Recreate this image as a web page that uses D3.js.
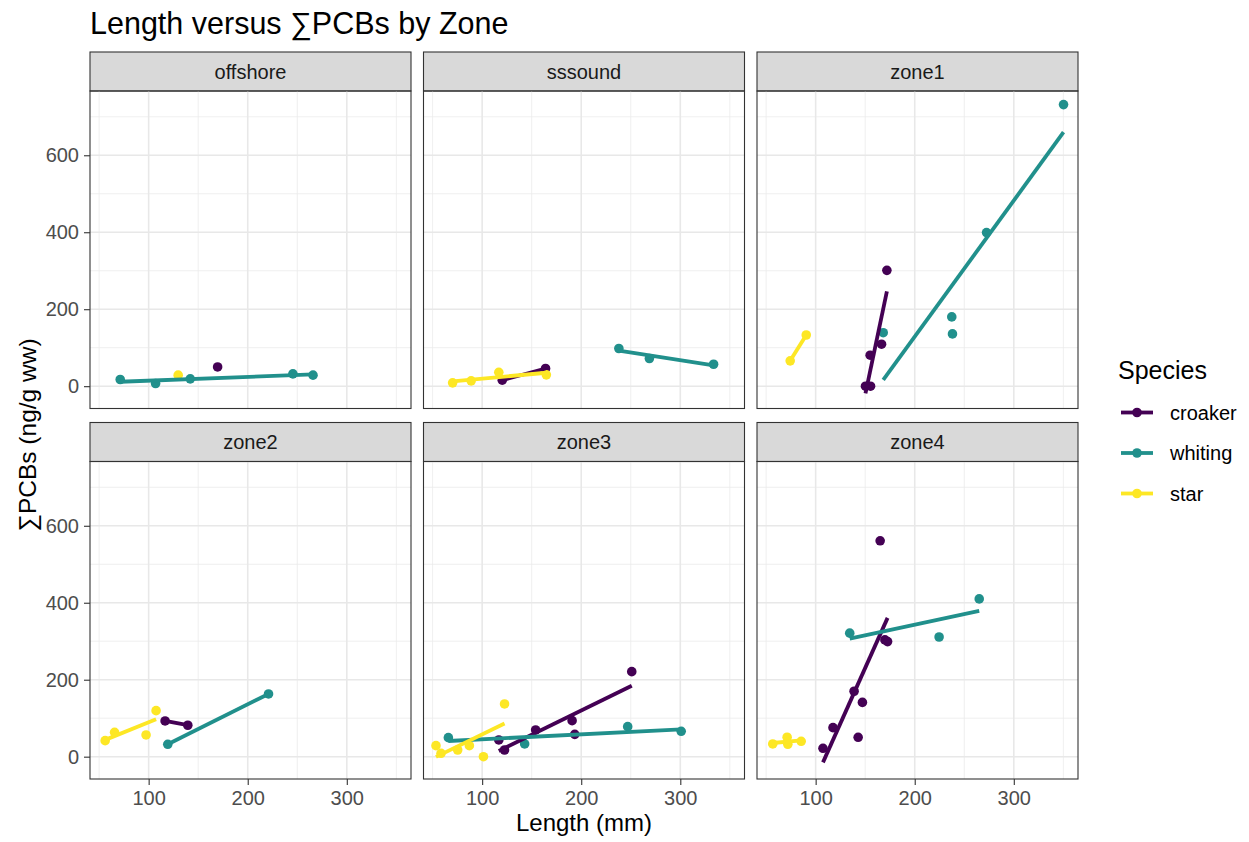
<!DOCTYPE html>
<html lang="en">
<head>
<meta charset="UTF-8">
<title>Length versus ∑PCBs by Zone</title>
<script src="https://d3js.org/d3.v7.min.js"></script>
<style>
  body { margin: 0; background: #fff; }
  svg { font-family: "Liberation Sans", Arial, Helvetica, sans-serif; }
  .tick text { fill: #4D4D4D; font-size: 20px; }
  .tick line { stroke: #333333; stroke-width: 1.1; }
</style>
</head>
<body>
<div id="chart"></div>
<script>
// facets and groups
const zones = ["offshore", "sssound", "zone1", "zone2", "zone3", "zone4"];
const speciesNames = ["croaker", "whiting", "star"];
const speciesColors = ["#440154", "#21908C", "#FDE725"];

// observations, one array per field and species
const croakerZone   = ["offshore", "sssound", "sssound", "zone1", "zone1", "zone1", "zone1", "zone1",
                       "zone2", "zone2", "zone3", "zone3", "zone3", "zone3", "zone3", "zone3",
                       "zone4", "zone4", "zone4", "zone4", "zone4", "zone4", "zone4", "zone4"];
const croakerLength = [169.6, 120.3, 164, 150.3, 155.4, 155, 166.5, 171.9,
                       116.6, 139.5, 116.8, 122.6, 154, 190.8, 193.5, 251,
                       107.4, 117.5, 138.8, 147.2, 142.9, 165.1, 169.9, 172.6];
const croakerPCB    = [50, 15.6, 46, 0, 0, 80.5, 109, 301,
                       92.8, 81.7, 43.4, 17.4, 69.4, 93.6, 58, 221,
                       21.8, 75.4, 170, 141, 50.4, 561, 303.5, 299];

const whitingZone   = ["offshore", "offshore", "offshore", "offshore", "offshore",
                       "sssound", "sssound", "sssound",
                       "zone1", "zone1", "zone1", "zone1", "zone1",
                       "zone2", "zone2", "zone3", "zone3", "zone3", "zone3",
                       "zone4", "zone4", "zone4"];
const whitingLength = [71.3, 107, 142, 245.6, 265.9, 238, 268.8, 333.6,
                       168.2, 237.4, 238.1, 272.5, 350.2, 119.3, 221,
                       65.9, 142.9, 246.9, 300.9, 134.4, 224.6, 265.1];
const whitingPCB    = [17.4, 7, 19, 32, 28.6, 97.9, 71.9, 57,
                       139, 180, 135.8, 399, 731.7, 32.2, 163,
                       49.4, 33, 78, 66, 321, 311, 410];

const starZone      = ["offshore", "sssound", "sssound", "sssound", "sssound", "zone1", "zone1",
                       "zone2", "zone2", "zone2", "zone2",
                       "zone3", "zone3", "zone3", "zone3", "zone3", "zone3",
                       "zone4", "zone4", "zone4", "zone4"];
const starLength    = [129.8, 70.2, 88.9, 116.8, 164.8, 74.3, 90.5,
                       56.1, 65.6, 97.4, 107.5,
                       53.4, 58.5, 75.3, 87.1, 101.3, 122.6,
                       56.7, 71.2, 71.9, 85.4];
const starPCB       = [28.6, 8.6, 13.8, 36, 29.4, 65.8, 133,
                       41.6, 63.4, 56.4, 119.6,
                       28.6, 8.8, 17.4, 28.6, 0, 137,
                       33, 50.5, 32.2, 40];

const xTicks = [100, 200, 300];
const yTicks = [0, 200, 400, 600];

// tidy table
const data = [];
[[croakerZone, croakerLength, croakerPCB], [whitingZone, whitingLength, whitingPCB], [starZone, starLength, starPCB]]
  .forEach((arr, si) => {
    arr[0].forEach((z, i) => data.push({ zone: z, species: speciesNames[si], length: arr[1][i], pcb: arr[2][i] }));
  });

// layout
const W = 1249, H = 842;
const left0 = 90, panelW = 321, colGap = 12.5;
const top0 = 52, stripH = 39, panelH = 317.5, rowGap = 14;

const color = d3.scaleOrdinal().domain(speciesNames).range(speciesColors);
const x = d3.scaleLinear().domain([40.8, 364.8]).range([0, panelW]);
const y = d3.scaleLinear().domain([-58, 767]).range([panelH, 0]);

const svg = d3.select("#chart").append("svg").attr("width", W).attr("height", H);

// linear fit like geom_smooth(method = "lm")
function lmFit(pts) {
  const mx = d3.mean(pts, d => d.length), my = d3.mean(pts, d => d.pcb);
  const sxy = d3.sum(pts, d => (d.length - mx) * (d.pcb - my));
  const sxx = d3.sum(pts, d => (d.length - mx) ** 2);
  const b = sxy / sxx, a = my - b * mx;
  const [x0, x1] = d3.extent(pts, d => d.length);
  return [{ length: x0, pcb: a + b * x0 }, { length: x1, pcb: a + b * x1 }];
}

zones.forEach((zone, i) => {
  const col = i % 3, row = Math.floor(i / 3);
  const px = left0 + col * (panelW + colGap);
  const sy = top0 + row * (stripH + panelH + rowGap);
  const py = sy + stripH;

  // strip
  svg.append("rect").attr("x", px).attr("y", sy).attr("width", panelW).attr("height", stripH)
    .attr("fill", "#D9D9D9").attr("stroke", "#333333").attr("stroke-width", 1.1);
  svg.append("text").attr("x", px + panelW / 2).attr("y", sy + stripH / 2 + 7)
    .attr("text-anchor", "middle").attr("font-size", 20).attr("fill", "#1A1A1A").text(zone);

  const g = svg.append("g").attr("transform", `translate(${px},${py})`);
  g.append("defs").append("clipPath").attr("id", "clip" + i)
    .append("rect").attr("width", panelW).attr("height", panelH);

  // grid
  const minorX = [50, 150, 250, 350], minorY = [100, 300, 500, 700];
  g.selectAll(".mx").data(minorX).join("line")
    .attr("x1", d => x(d)).attr("x2", d => x(d)).attr("y1", 0).attr("y2", panelH)
    .attr("stroke", "#EBEBEB").attr("stroke-width", 0.8);
  g.selectAll(".my").data(minorY).join("line")
    .attr("y1", d => y(d)).attr("y2", d => y(d)).attr("x1", 0).attr("x2", panelW)
    .attr("stroke", "#EBEBEB").attr("stroke-width", 0.8);
  g.selectAll(".gx").data(xTicks).join("line")
    .attr("x1", d => x(d)).attr("x2", d => x(d)).attr("y1", 0).attr("y2", panelH)
    .attr("stroke", "#E8E8E8").attr("stroke-width", 1.6);
  g.selectAll(".gy").data(yTicks).join("line")
    .attr("y1", d => y(d)).attr("y2", d => y(d)).attr("x1", 0).attr("x2", panelW)
    .attr("stroke", "#E8E8E8").attr("stroke-width", 1.6);

  const plot = g.append("g").attr("clip-path", `url(#clip${i})`);
  const zd = data.filter(d => d.zone === zone);

  plot.selectAll("circle").data(zd).join("circle")
    .attr("cx", d => x(d.length)).attr("cy", d => y(d.pcb)).attr("r", 4.8)
    .attr("fill", d => color(d.species));

  const line = d3.line().x(d => x(d.length)).y(d => y(d.pcb));
  speciesNames.forEach(sp => {
    const pts = zd.filter(d => d.species === sp);
    if (pts.length < 2) return;
    plot.append("path").attr("d", line(lmFit(pts)))
      .attr("fill", "none").attr("stroke", color(sp)).attr("stroke-width", 3.8);
  });

  g.append("rect").attr("width", panelW).attr("height", panelH)
    .attr("fill", "none").attr("stroke", "#333333").attr("stroke-width", 1.1);

  if (col === 0) {
    const ya = g.append("g").call(d3.axisLeft(y).tickValues(yTicks).tickSize(6).tickPadding(5));
    ya.select(".domain").remove();
    ya.attr("font-family", null).attr("font-size", null);
  }
  if (row === 1) {
    const xa = g.append("g").attr("transform", `translate(0,${panelH})`)
      .call(d3.axisBottom(x).tickValues(xTicks).tickSize(6).tickPadding(4));
    xa.select(".domain").remove();
    xa.attr("font-family", null).attr("font-size", null);
    xa.selectAll("text").attr("dy", "0.8em");
  }
});

// titles
svg.append("text").attr("x", 90).attr("y", 34).attr("font-size", 30.5).attr("fill", "#000")
  .text("Length versus ∑PCBs by Zone");
svg.append("text").attr("x", left0 + (3 * panelW + 2 * colGap) / 2).attr("y", 831)
  .attr("text-anchor", "middle").attr("font-size", 24).attr("fill", "#000").text("Length (mm)");
svg.append("text").attr("transform", `translate(36,${(top0 + stripH + 779) / 2}) rotate(-90)`)
  .attr("text-anchor", "middle").attr("font-size", 24.5).attr("fill", "#000").text("∑PCBs (ng/g ww)");

// legend
const leg = svg.append("g").attr("transform", "translate(1118,0)");
leg.append("text").attr("x", 0).attr("y", 379).attr("font-size", 25).attr("fill", "#000").text("Species");
const keyY = d3.scalePoint().domain(speciesNames).range([412.5, 493.5]);
const items = leg.selectAll(".key").data(speciesNames).join("g")
  .attr("transform", d => `translate(0,${keyY(d)})`);
items.append("line").attr("x1", 3).attr("x2", 35).attr("stroke", d => color(d)).attr("stroke-width", 3.8);
items.append("circle").attr("cx", 19).attr("r", 4.8).attr("fill", d => color(d));
items.append("text").attr("x", 52).attr("y", 7).attr("font-size", 20).attr("fill", "#000").text(d => d);
</script>
</body>
</html>
